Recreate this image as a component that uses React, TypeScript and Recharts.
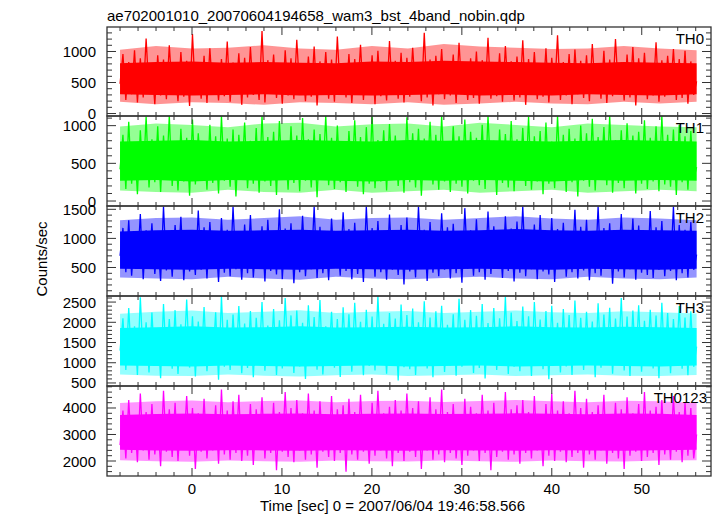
import { ComposedChart, Line, Area, XAxis, YAxis } from "recharts";

// time bins run from T_START to T_END (sec), one value per bin
const T_START = -8;
const T_END = 56.1;
const X_DOMAIN = [-9.45, 57.7];
const X_TICKS = [-8, -6, -4, -2, 0, 2, 4, 6, 8, 10, 12, 14, 16, 18, 20, 22, 24, 26, 28, 30, 32, 34, 36, 38, 40, 42, 44, 46, 48, 50, 52, 54, 56];

const TH0 = [
  480, 960, 220, 830, 310, 1020, 180, 890, 260, 1210, 340, 760, 150, 940, 290, 870, 230, 1100, 380, 720,
  200, 990, 270, 850, 120, 1280, 310, 800, 240, 930, 170, 1050, 330, 780, 210, 880, 280, 1160, 190, 820,
  350, 970, 140, 900, 260, 1070, 300, 740, 220, 1330, 180, 860, 320, 950, 250, 810, 160, 1020, 290, 890,
  230, 1190, 370, 770, 200, 920, 270, 1080, 130, 840, 310, 990, 240, 870, 190, 1240, 330, 790, 260, 960,
  170, 880, 300, 1110, 220, 830, 350, 940, 150, 1010, 280, 760, 210, 1170, 320, 850, 240, 980, 180, 900,
  270, 1060, 340, 800, 200, 1300, 260, 870, 130, 930, 310, 1040, 230, 820, 290, 950, 170, 1140, 350, 780,
  220, 890, 250, 1000, 160, 860, 320, 1220, 240, 810, 280, 970, 190, 1090, 330, 840, 210, 920, 260, 1180,
  140, 880, 300, 990, 230, 770, 270, 1050, 180, 900, 340, 1260, 220, 830, 290, 960, 150, 1030, 310, 850,
  250, 940, 200, 1120, 330, 790, 240, 1010, 170, 870, 280, 1200, 360, 820, 210, 950, 260, 1070, 130, 890,
  320, 980, 230, 800, 290, 1150, 190, 860, 270, 930, 340, 1040, 220, 880, 250, 1010, 160, 840, 300, 520,
];

const TH1 = [
  420, 880, 160, 1050, 230, 760, 90, 940, 280, 1120, 180, 820, 250, 990, 120, 870, 300, 1130, 200, 790,
  140, 960, 260, 840, 70, 1080, 220, 900, 310, 770, 150, 1010, 240, 860, 100, 1130, 270, 830, 190, 950,
  60, 880, 290, 1040, 170, 800, 230, 970, 110, 1130, 260, 850, 200, 920, 80, 1060, 300, 780, 150, 990,
  240, 870, 130, 1100, 270, 820, 180, 950, 50, 890, 310, 1130, 210, 840, 160, 1000, 250, 760, 120, 930,
  280, 1070, 190, 850, 90, 980, 230, 1130, 170, 810, 260, 940, 140, 1020, 300, 870, 200, 790, 110, 1110,
  250, 900, 180, 960, 70, 830, 290, 1050, 220, 880, 150, 1130, 260, 770, 120, 990, 230, 860, 190, 1080,
  100, 920, 270, 840, 210, 1010, 160, 1130, 300, 800, 80, 950, 240, 890, 180, 1060, 130, 820, 280, 970,
  200, 1120, 150, 860, 260, 930, 90, 1040, 230, 790, 170, 1130, 290, 880, 120, 960, 250, 830, 60, 1000,
  270, 900, 190, 1090, 140, 850, 300, 980, 210, 1130, 110, 810, 240, 940, 170, 1030, 280, 870, 100, 920,
  230, 1070, 160, 840, 260, 990, 130, 1130, 220, 880, 190, 950, 80, 1010, 250, 860, 150, 930, 280, 450,
];

const TH2 = [
  700, 1180, 420, 1310, 360, 1050, 480, 1420, 300, 1140, 510, 1260, 390, 980, 270, 1550, 450, 1090, 340, 1230,
  500, 1370, 280, 1120, 430, 1010, 370, 1480, 460, 1190, 310, 1280, 520, 1060, 250, 1350, 410, 1150, 350, 1550,
  470, 1100, 290, 1240, 400, 1400, 330, 1030, 500, 1210, 260, 1320, 440, 1080, 380, 1500, 300, 1170, 490, 1260,
  230, 1130, 420, 1390, 350, 1050, 470, 1550, 320, 1200, 400, 1110, 280, 1340, 510, 1020, 360, 1450, 440, 1160,
  300, 1270, 390, 1090, 250, 1550, 480, 1180, 340, 1300, 420, 1040, 290, 1410, 460, 1120, 370, 1230, 210, 1360,
  430, 1070, 330, 1550, 500, 1150, 270, 1280, 410, 1010, 350, 1430, 460, 1190, 310, 1250, 400, 1100, 240, 1520,
  480, 1140, 360, 1330, 420, 1060, 290, 1460, 390, 1210, 500, 1080, 320, 1380, 440, 1170, 260, 1290, 410, 1550,
  350, 1120, 470, 1240, 300, 1400, 430, 1030, 380, 1350, 250, 1160, 490, 1270, 340, 1090, 420, 1490, 310, 1200,
  450, 1320, 280, 1050, 400, 1550, 360, 1180, 480, 1260, 220, 1130, 430, 1420, 330, 1070, 470, 1340, 290, 1220,
  410, 1110, 370, 1470, 320, 1190, 460, 1300, 350, 1080, 440, 1550, 280, 1230, 400, 1150, 330, 1280, 460, 720,
];

const TH3 = [
  1300, 2100, 820, 2350, 980, 1900, 700, 2620, 1050, 2000, 760, 2240, 930, 1850, 620, 2450, 1010, 2080, 850, 2300,
  720, 1950, 1000, 2560, 880, 2150, 660, 2020, 960, 2380, 790, 1880, 1040, 2250, 580, 2650, 900, 2060, 820, 2190,
  990, 2400, 740, 1970, 870, 2280, 640, 2110, 1020, 2500, 800, 1920, 940, 2330, 700, 2050, 860, 2600, 1060, 2170,
  750, 2290, 910, 1990, 600, 2420, 980, 2130, 830, 2550, 710, 1900, 1000, 2260, 880, 2080, 650, 2370, 950, 2200,
  780, 2480, 1030, 2010, 690, 2310, 920, 2140, 810, 2650, 970, 1960, 730, 2230, 1010, 2090, 560, 2440, 890, 2180,
  840, 2340, 700, 2000, 990, 2520, 860, 2120, 640, 2270, 1050, 2410, 770, 1940, 930, 2200, 680, 2580, 900, 2060,
  1020, 2300, 750, 2160, 870, 2450, 610, 1980, 960, 2350, 820, 2100, 1000, 2630, 720, 2240, 900, 2030, 790, 2390,
  940, 2150, 670, 2500, 1030, 2070, 840, 2280, 590, 2410, 980, 1990, 760, 2330, 910, 2180, 700, 2540, 1010, 2110,
  820, 2260, 950, 2020, 640, 2470, 880, 2190, 1040, 2360, 730, 2090, 990, 2600, 810, 2140, 670, 2290, 920, 2420,
  780, 2040, 1000, 2310, 860, 2170, 620, 2480, 930, 2230, 740, 2080, 970, 2400, 850, 2120, 690, 2270, 900, 1400,
];

const TH0123 = [
  2600, 3900, 2100, 4300, 2300, 3700, 1950, 4550, 2400, 3850, 2050, 4150, 2250, 3600, 1800, 4650, 2350, 3950, 2150, 4200,
  2000, 3750, 2450, 4450, 2200, 4000, 1700, 3800, 2350, 4350, 2100, 3650, 2400, 4100, 1900, 4700, 2250, 3900, 2050, 4250,
  2300, 4500, 2000, 3700, 2200, 4150, 1850, 3950, 2450, 4400, 2100, 3750, 2300, 4200, 1650, 3850, 2350, 4600, 2150, 4000,
  1950, 4300, 2400, 3800, 2050, 4550, 2250, 3900, 1750, 4250, 2350, 3650, 2150, 4450, 2000, 3950, 2300, 4100, 1600, 4350,
  2250, 3850, 2050, 4500, 2350, 3700, 1900, 4200, 2200, 4650, 2400, 3800, 2100, 4050, 1800, 4300, 2300, 3900, 2000, 4550,
  2350, 4000, 2150, 4250, 1700, 3750, 2400, 4400, 2050, 3950, 2250, 4700, 1950, 3850, 2300, 4150, 2100, 3700, 1850, 4350,
  2200, 4050, 2400, 3800, 2000, 4500, 2300, 3900, 1650, 4200, 2150, 3750, 2350, 4600, 2050, 3950, 2250, 4100, 1900, 4300,
  2300, 3850, 2100, 4450, 2400, 3700, 1800, 4150, 2200, 4550, 2000, 3900, 2350, 4250, 1950, 3800, 2150, 4650, 2300, 4000,
  1750, 4350, 2250, 3850, 2050, 4100, 2400, 4500, 1900, 3750, 2300, 4200, 2100, 3950, 1700, 4400, 2200, 3800, 2350, 4150,
  2000, 4600, 2150, 3900, 2300, 4050, 1850, 4300, 2250, 3750, 2050, 4450, 2350, 3850, 1950, 4200, 2200, 4000, 2100, 3000,
];

// envelopes of the trace read every 4 s: solid core (LO/HI) and half-filled fringe (OUT_LO/OUT_HI)
const BAND_T = [-8, -4, 0, 4, 8, 12, 16, 20, 24, 28, 32, 36, 40, 44, 48, 52, 56.1];
const TH0_LO = [310, 300, 290, 300, 310, 290, 300, 290, 300, 310, 290, 300, 290, 310, 300, 290, 310];
const TH0_HI = [810, 830, 840, 820, 830, 820, 810, 840, 830, 850, 840, 830, 820, 810, 830, 820, 810];
const TH0_OUT_LO = [190, 150, 180, 170, 140, 180, 170, 150, 180, 140, 160, 190, 160, 150, 190, 160, 190];
const TH0_OUT_HI = [1030, 1090, 1050, 1060, 1100, 1050, 1030, 1090, 1050, 1120, 1080, 1060, 1040, 1050, 1090, 1050, 1020];
const TH1_LO = [270, 280, 260, 280, 270, 280, 270, 260, 280, 270, 280, 270, 260, 280, 270, 280, 270];
const TH1_HI = [790, 800, 810, 790, 800, 810, 800, 790, 810, 800, 810, 800, 790, 800, 810, 800, 790];
const TH1_OUT_LO = [140, 120, 110, 150, 120, 110, 150, 110, 130, 150, 110, 130, 150, 110, 130, 150, 130];
const TH1_OUT_HI = [990, 1030, 1010, 980, 1030, 1040, 990, 1020, 1030, 990, 1040, 1010, 980, 1030, 1010, 990, 980];
const TH2_LO = [480, 470, 460, 480, 470, 460, 480, 470, 460, 470, 480, 470, 460, 480, 470, 460, 480];
const TH2_HI = [1120, 1140, 1150, 1130, 1140, 1150, 1130, 1140, 1150, 1130, 1140, 1160, 1140, 1130, 1150, 1140, 1130];
const TH2_OUT_LO = [330, 310, 300, 340, 310, 290, 340, 310, 300, 320, 340, 310, 300, 340, 310, 300, 330];
const TH2_OUT_HI = [1310, 1350, 1360, 1320, 1350, 1380, 1320, 1350, 1360, 1320, 1350, 1380, 1340, 1320, 1360, 1340, 1310];
const TH3_LO = [930, 920, 910, 930, 920, 910, 920, 930, 910, 920, 930, 910, 920, 930, 920, 910, 930];
const TH3_HI = [1860, 1880, 1900, 1870, 1880, 1900, 1870, 1880, 1890, 1870, 1880, 1900, 1880, 1870, 1890, 1880, 1860];
const TH3_OUT_LO = [710, 680, 670, 710, 680, 660, 690, 710, 670, 690, 710, 670, 690, 710, 680, 670, 700];
const TH3_OUT_HI = [2210, 2260, 2290, 2230, 2260, 2300, 2230, 2260, 2280, 2230, 2260, 2290, 2250, 2230, 2270, 2250, 2220];
const TH0123_LO = [2420, 2400, 2390, 2410, 2400, 2390, 2410, 2400, 2390, 2410, 2400, 2390, 2410, 2400, 2390, 2410, 2420];
const TH0123_HI = [3740, 3770, 3790, 3760, 3780, 3790, 3760, 3780, 3790, 3770, 3780, 3800, 3780, 3760, 3790, 3780, 3740];
const TH0123_OUT_LO = [2030, 1990, 1970, 2020, 1990, 1970, 2020, 1990, 1980, 2020, 1990, 1970, 2020, 1990, 1980, 2020, 2030];
const TH0123_OUT_HI = [4190, 4250, 4280, 4220, 4260, 4280, 4220, 4260, 4270, 4230, 4260, 4300, 4250, 4220, 4270, 4250, 4190];

const TICKS_TH0 = [0, 100, 200, 300, 400, 500, 600, 700, 800, 900, 1000, 1100, 1200, 1300];
const TICKS_TH1 = [0, 100, 200, 300, 400, 500, 600, 700, 800, 900, 1000, 1100];
const TICKS_TH2 = [100, 200, 300, 400, 500, 600, 700, 800, 900, 1000, 1100, 1200, 1300, 1400, 1500];
const TICKS_TH3 = [500, 600, 700, 800, 900, 1000, 1100, 1200, 1300, 1400, 1500, 1600, 1700, 1800, 1900, 2000, 2100, 2200, 2300, 2400, 2500, 2600];
const TICKS_TH0123 = [1600, 1800, 2000, 2200, 2400, 2600, 2800, 3000, 3200, 3400, 3600, 3800, 4000, 4200, 4400, 4600, 4800];

const PLOT_LEFT = 107;
const PLOT_RIGHT = 711;
const PAD = 10; // svg overhang above/below each panel so labels are not clipped
const AXIS = "#333";
const FONT = "'Liberation Sans', Arial, sans-serif";

const PANELS = [
  { name: "TH0", values: TH0, lo: TH0_LO, hi: TH0_HI, outLo: TH0_OUT_LO, outHi: TH0_OUT_HI, color: "#ff0000", top: 27, bottom: 116, domain: [-40, 1395], ticks: TICKS_TH0, major: 500, labelX: 704 },
  { name: "TH1", values: TH1, lo: TH1_LO, hi: TH1_HI, outLo: TH1_OUT_LO, outHi: TH1_OUT_HI, color: "#00ff00", top: 116, bottom: 206, domain: [-66, 1128], ticks: TICKS_TH1, major: 500, labelX: 704 },
  { name: "TH2", values: TH2, lo: TH2_LO, hi: TH2_HI, outLo: TH2_OUT_LO, outHi: TH2_OUT_HI, color: "#0000ff", top: 206, bottom: 296, domain: [10, 1557], ticks: TICKS_TH2, major: 500, labelX: 704 },
  { name: "TH3", values: TH3, lo: TH3_LO, hi: TH3_HI, outLo: TH3_OUT_LO, outHi: TH3_OUT_HI, color: "#00ffff", top: 296, bottom: 386, domain: [425, 2650], ticks: TICKS_TH3, major: 500, labelX: 704 },
  { name: "TH0123", values: TH0123, lo: TH0123_LO, hi: TH0123_HI, outLo: TH0123_OUT_LO, outHi: TH0123_OUT_HI, color: "#ff00ff", top: 386, bottom: 476, domain: [1434, 4830], ticks: TICKS_TH0123, major: 1000, labelX: 707 },
];

function YTick({ y, payload, major }: any) {
  const isMajor = payload.value % major === 0;
  const len = isMajor ? 9 : 5;
  return (
    <g>
      <line x1={PLOT_LEFT} x2={PLOT_LEFT + len} y1={y} y2={y} stroke={AXIS} strokeWidth={1} />
      <line x1={PLOT_RIGHT - len} x2={PLOT_RIGHT} y1={y} y2={y} stroke={AXIS} strokeWidth={1} />
      {isMajor && (
        <text x={96} y={y} textAnchor="end" dominantBaseline="central" fontSize={15} fontFamily={FONT} fill="#000">
          {payload.value}
        </text>
      )}
    </g>
  );
}

function XTick({ x, payload, plotH, showLabel }: any) {
  const isMajor = payload.value % 10 === 0;
  const len = isMajor ? 8 : 4;
  const bottom = PAD + plotH;
  return (
    <g>
      <line x1={x} x2={x} y1={bottom} y2={bottom - len} stroke={AXIS} strokeWidth={1} />
      <line x1={x} x2={x} y1={PAD} y2={PAD + len} stroke={AXIS} strokeWidth={1} />
      {showLabel && isMajor && (
        <text x={x} y={bottom + 12} textAnchor="middle" dominantBaseline="central" fontSize={15} fontFamily={FONT} fill="#000">
          {payload.value}
        </text>
      )}
    </g>
  );
}

function Panel({ p, last }: any) {
  const plotH = p.bottom - p.top;
  const extra = last ? 30 : 0;
  const step = (T_END - T_START) / (p.values.length - 1);
  const data = p.values.map((v: number, i: number) => ({ t: T_START + i * step, v }));
  const band = BAND_T.map((t, i) => ({ t, core: [p.lo[i], p.hi[i]], fringe: [p.outLo[i], p.outHi[i]] }));
  return (
    <div style={{ position: "absolute", left: 0, top: p.top - PAD }}>
      <ComposedChart
        width={717}
        height={plotH + 2 * PAD + extra}
        margin={{ top: PAD, right: 717 - PLOT_RIGHT, bottom: 0, left: 0 }}
      >
        <XAxis
          type="number"
          dataKey="t"
          domain={X_DOMAIN}
          allowDataOverflow
          ticks={X_TICKS}
          interval={0}
          height={PAD + extra}
          axisLine={false}
          tickLine={false}
          tick={(props: any) => <XTick {...props} plotH={plotH} showLabel={last} />}
        />
        <YAxis
          type="number"
          domain={p.domain}
          allowDataOverflow
          ticks={p.ticks}
          interval={0}
          width={PLOT_LEFT}
          axisLine={false}
          tickLine={false}
          tick={(props: any) => <YTick {...props} major={p.major} />}
        />
        <Area
          data={band}
          type="linear"
          dataKey="fringe"
          fill={p.color}
          fillOpacity={0.42}
          stroke="none"
          isAnimationActive={false}
        />
        <Area
          data={band}
          type="linear"
          dataKey="core"
          fill={p.color}
          fillOpacity={1}
          stroke="none"
          isAnimationActive={false}
        />
        <Line
          data={data}
          type="linear"
          dataKey="v"
          stroke={p.color}
          strokeWidth={1.3}
          dot={false}
          isAnimationActive={false}
        />
      </ComposedChart>
    </div>
  );
}

export default function App() {
  return (
    <div style={{ position: "absolute", left: 0, top: 0, width: 717, height: 516, background: "#fff", overflow: "hidden" }}>
      {PANELS.map((p, i) => (
        <Panel key={p.name} p={p} last={i === PANELS.length - 1} />
      ))}
      <svg width={717} height={516} style={{ position: "absolute", left: 0, top: 0, pointerEvents: "none" }}>
        {PANELS.map((p) => (
          <g key={p.name}>
            <rect x={PLOT_LEFT} y={p.top} width={PLOT_RIGHT - PLOT_LEFT} height={p.bottom - p.top} fill="none" stroke={AXIS} strokeWidth={1.3} />
            <text x={p.labelX} y={p.top + 11} textAnchor="end" dominantBaseline="central" fontSize={15} fontFamily={FONT} fill="#000">
              {p.name}
            </text>
          </g>
        ))}
        <text x={PLOT_LEFT} y={15} dominantBaseline="central" fontSize={15} fontFamily={FONT} fill="#000">
          ae702001010_20070604194658_wam3_bst_4band_nobin.qdp
        </text>
        <text
          x={41}
          y={259}
          transform="rotate(-90 41 259)"
          textAnchor="middle"
          dominantBaseline="central"
          fontSize={15}
          fontFamily={FONT}
          fill="#000"
        >
          Counts/sec
        </text>
        <text x={260} y={505} dominantBaseline="central" fontSize={15} fontFamily={FONT} fill="#000">
          Time [sec] 0 = 2007/06/04 19:46:58.566
        </text>
      </svg>
    </div>
  );
}
